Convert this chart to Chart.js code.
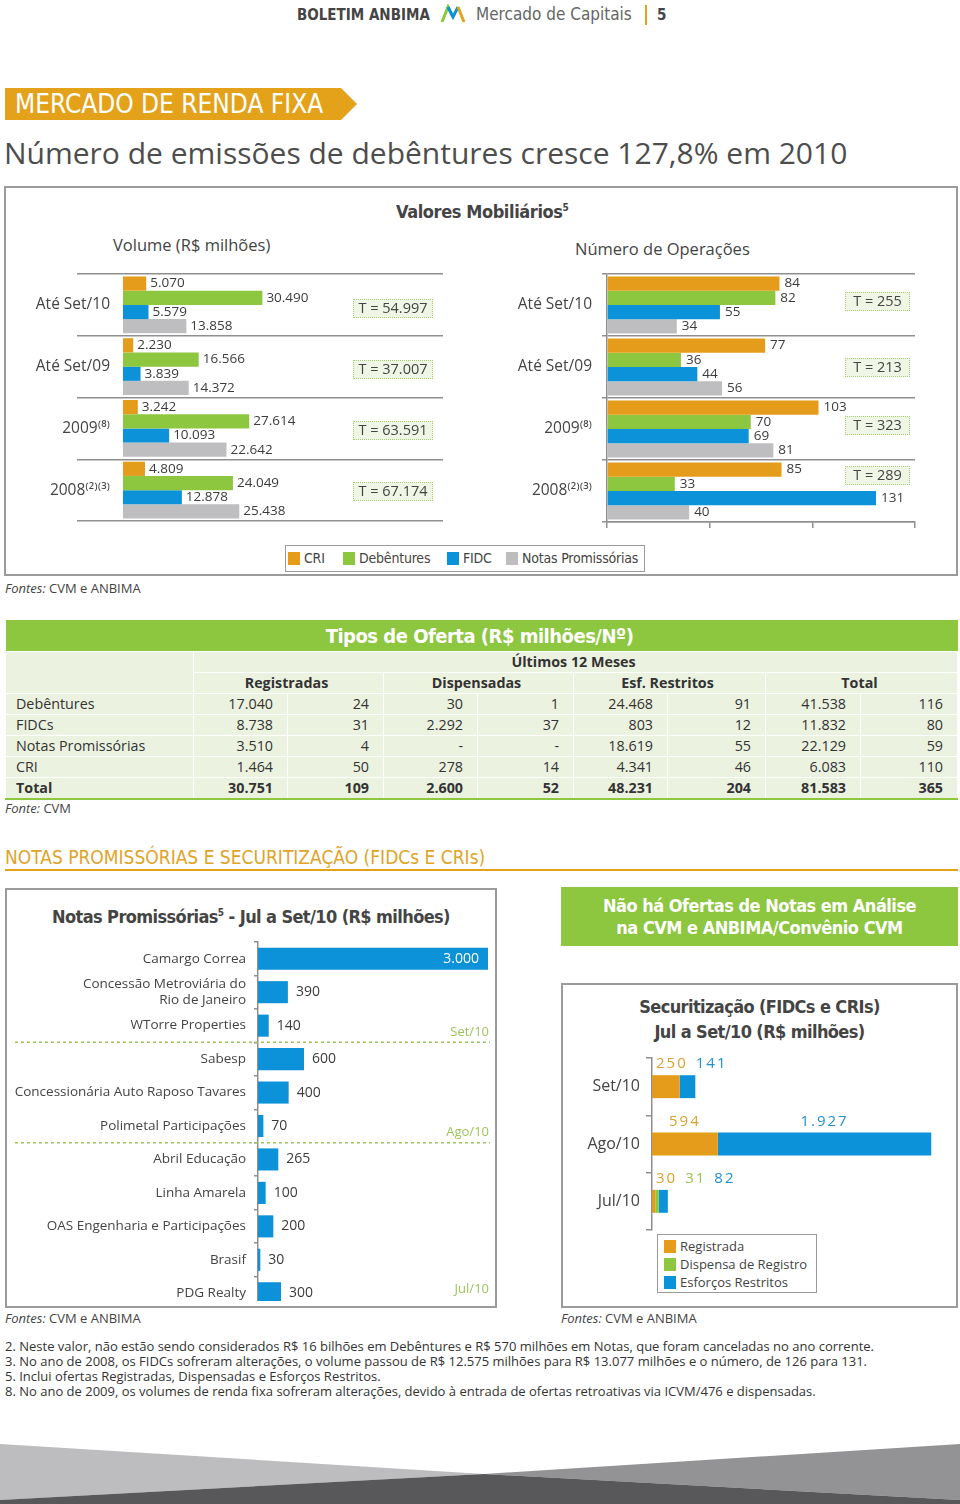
<!DOCTYPE html>
<html lang="pt-BR">
<head>
<meta charset="UTF-8">
<title>Mercado de Renda Fixa</title>
<script src="https://cdn.jsdelivr.net/npm/chart.js@4.4.1/dist/chart.umd.min.js"></script>
<style>
  body { margin: 0; background: #fff; font-family: 'Open Sans', sans-serif; color: #444; }
  #pagina { position: relative; width: 960px; height: 1504px; overflow: hidden; }
  .abs { position: absolute; white-space: nowrap; }
  .cond { font-family: 'Liberation Sans Narrow', 'DejaVu Sans Condensed', sans-serif; }
  .caixa { position: absolute; box-sizing: border-box; border: 2px solid #9b9b9b; }
  .tbox { position: absolute; box-sizing: border-box; height: 19px; line-height: 16px; font-size: 14.5px;
          text-align: center; color: #444; background: #f0f6e6; border: 1.5px dotted #a6cb74; }
  .legenda { position: absolute; box-sizing: border-box; border: 1.5px solid #9b9b9b; background: #fff; white-space: nowrap; }
  .legenda span.q { display: inline-block; width: 12px; height: 13px; vertical-align: -2px; margin-right: 4px; }
  .legenda .item { position: absolute; top: 0; }
  .fonte { position: absolute; font-size: 13px; color: #444; }
  #tabela { position: absolute; left: 5px; top: 620px; width: 952px; border-collapse: collapse;
            table-layout: fixed; font-size: 14.3px; color: #333; }
  #tabela td { background: #ecf2e0; border: 1.5px solid #fff; padding: 0 14px 0 10px; height: 20px; line-height: 18px; white-space: nowrap; }
  #tabela td.cap { background: #8dc63f; color: #fff; font-weight: bold; font-size: 20px; letter-spacing: -0.5px; text-align: center; height: 31px; border: none; }
  #tabela td.h { text-align: center; font-weight: bold; }
  #tabela td.n { text-align: right; }
  #tabela tr.total td { font-weight: bold; border-bottom: 2px solid #8dc63f; }
</style>
</head>
<body>
<div id="pagina">

  <!-- cabeçalho -->
  <div class="abs cond" style="left:297px; top:6px; font-size:15px; font-weight:bold; color:#444;">BOLETIM ANBIMA</div>
  <svg class="abs" style="left:440px; top:4px;" width="26" height="20">
    <polyline points="2,18 8,3 13,13" fill="none" stroke="#8dc63f" stroke-width="3"/>
    <polyline points="8,3 13,13 18,3" fill="none" stroke="#0b92d8" stroke-width="3"/>
    <polyline points="18,3 24,18" fill="none" stroke="#e4a21b" stroke-width="3"/>
  </svg>
  <div class="abs cond" style="left:476px; top:4px; font-size:17px; color:#666;">Mercado de Capitais</div>
  <div class="abs" style="left:645px; top:5px; width:2px; height:20px; background:#e4a21b;"></div>
  <div class="abs cond" style="left:657px; top:6px; font-size:15px; font-weight:bold; color:#444;">5</div>

  <div class="abs cond" style="left:5px; top:88px; width:352px; height:32px; background:#e4a21b; color:#fff;
       font-size:26px; line-height:33px; padding-left:10px; box-sizing:border-box;
       clip-path: polygon(0 0, 336px 0, 352px 50%, 336px 100%, 0 100%);">MERCADO DE RENDA FIXA</div>
  <div class="abs" style="left:4px; top:132px; font-size:30px; color:#4d4d4d;">Número de emissões de debêntures cresce 127,8% em 2010</div>

  <!-- Valores Mobiliários -->
  <div class="caixa" style="left:4px; top:186px; width:954px; height:390px;"></div>
  <div class="abs cond" style="left:396px; top:201px; font-size:18px; letter-spacing:-0.4px; font-weight:bold; color:#444;">Valores Mobiliários<sup style="font-size:10px;">5</sup></div>
  <div class="abs" style="left:113px; top:233px; font-size:16.5px; color:#444;">Volume (R$ milhões)</div>
  <div class="abs" style="left:575px; top:237px; font-size:16.5px; color:#444;">Número de Operações</div>
  <canvas id="cVolume" class="abs" style="left:15px; top:266px;" width="435" height="265"></canvas>
  <canvas id="cOperacoes" class="abs" style="left:490px; top:266px;" width="435" height="270"></canvas>
  <div id="totaisVol"></div>
  <div id="totaisOp"></div>
  <div class="legenda cond" style="left:285px; top:545px; width:360px; height:27px; font-size:14px; letter-spacing:-0.2px; line-height:24px;">
    <span class="item" style="left:2px;"><span class="q" style="background:#e49c1a"></span>CRI</span>
    <span class="item" style="left:57px;"><span class="q" style="background:#8dc63f"></span>Debêntures</span>
    <span class="item" style="left:161px;"><span class="q" style="background:#0b92d8"></span>FIDC</span>
    <span class="item" style="left:220px;"><span class="q" style="background:#bebec0"></span>Notas Promissórias</span>
  </div>
  <div class="fonte" style="left:5px; top:579px;"><i>Fontes:</i> CVM e ANBIMA</div>

  <!-- Tipos de oferta -->
  <table id="tabela">
    <colgroup>
      <col style="width:188px"><col style="width:94px"><col style="width:96px"><col style="width:94px"><col style="width:96px">
      <col style="width:94px"><col style="width:98px"><col style="width:95px"><col style="width:97px">
    </colgroup>
    <thead>
      <tr><td class="cap cond" colspan="9">Tipos de Oferta (R$ milhões/Nº)</td></tr>
      <tr><td rowspan="2"></td><td class="h" colspan="8">Últimos 12 Meses</td></tr>
      <tr id="linhaGrupos"></tr>
    </thead>
    <tbody id="corpoTabela"></tbody>
  </table>
  <div class="fonte" style="left:5px; top:799px;"><i>Fonte:</i> CVM</div>

  <!-- Notas e securitização -->
  <div class="abs cond" style="left:5px; top:846px; font-size:19px; color:#e0a428;">NOTAS PROMISSÓRIAS E SECURITIZAÇÃO (FIDCs E CRIs)</div>
  <div class="abs" style="left:5px; top:869px; width:953px; height:2px; background:#e4a21b;"></div>

  <div class="caixa" style="left:5px; top:888px; width:492px; height:420px;"></div>
  <div class="abs cond" style="left:5px; top:906px; width:492px; text-align:center; font-size:18px; letter-spacing:-0.6px; font-weight:bold; color:#444;">Notas Promissórias<sup style="font-size:10px;">5</sup> - Jul a Set/10 (R$ milhões)</div>
  <div class="abs" style="left:0px; top:936px; width:497px; height:365px; overflow:hidden;">
    <canvas id="cNotas" style="position:absolute; left:10px; top:0px;" width="485" height="376"></canvas>
  </div>

  <div class="abs cond" style="left:561px; top:887px; width:397px; height:59px; background:#8dc63f; color:#fff;
       font-size:18px; font-weight:bold; letter-spacing:-0.5px; text-align:center; line-height:22px; padding-top:8px; box-sizing:border-box;">Não há Ofertas de Notas em Análise<br>na CVM e ANBIMA/Convênio CVM</div>

  <div class="caixa" style="left:561px; top:983px; width:397px; height:325px;"></div>
  <div class="abs cond" style="left:561px; top:994px; width:397px; text-align:center; font-size:18px; letter-spacing:-0.6px; font-weight:bold; color:#444; line-height:25px;">Securitização (FIDCs e CRIs)<br>Jul a Set/10 (R$ milhões)</div>
  <canvas id="cSecuritizacao" class="abs" style="left:570px; top:1050px;" width="385" height="185"></canvas>
  <div class="legenda" style="left:657px; top:1234px; width:160px; height:59px; font-size:13px; line-height:18px; padding:2px 0 0 6px;">
    <div><span class="q" style="background:#e49c1a"></span>Registrada</div>
    <div><span class="q" style="background:#8dc63f"></span>Dispensa de Registro</div>
    <div><span class="q" style="background:#0b92d8"></span>Esforços Restritos</div>
  </div>
  <div class="fonte" style="left:5px; top:1309px;"><i>Fontes:</i> CVM e ANBIMA</div>
  <div class="fonte" style="left:561px; top:1309px;"><i>Fontes:</i> CVM e ANBIMA</div>

  <div class="abs" style="left:5px; top:1339px; font-size:13px; line-height:15px; color:#333;">
    2. Neste valor, não estão sendo considerados R$ 16 bilhões em Debêntures e R$ 570 milhões em Notas, que foram canceladas no ano corrente.<br>
    3. No ano de 2008, os FIDCs sofreram alterações, o volume passou de R$ 12.575 milhões para R$ 13.077 milhões e o número, de 126 para 131.<br>
    5. Inclui ofertas Registradas, Dispensadas e Esforços Restritos.<br>
    8. No ano de 2009, os volumes de renda fixa sofreram alterações, devido à entrada de ofertas retroativas via ICVM/476 e dispensadas.
  </div>

  <svg class="abs" style="left:0; top:1440px;" width="960" height="64">
    <polygon points="0,4 484,34 0,60" fill="#bdbdbf"/>
    <polygon points="960,4 484,34 960,60" fill="#939395"/>
    <polygon points="0,60 484,34 960,60 960,64 0,64" fill="#58585a"/>
  </svg>
</div>

<script>
// ---- dados ----
const periodos = ['Até Set/10', 'Até Set/09', '2009⁽⁸⁾', '2008⁽²⁾⁽³⁾'];
const tipos = ['CRI', 'Debêntures', 'FIDC', 'Notas Promissórias'];
const volCRI = [5070, 2230, 3242, 4809];
const volDeb = [30490, 16566, 27614, 24049];
const volFIDC = [5579, 3839, 10093, 12878];
const volNP = [13858, 14372, 22642, 25438];
const volTotal = [54997, 37007, 63591, 67174];
const opCRI = [84, 77, 103, 85];
const opDeb = [82, 36, 70, 33];
const opFIDC = [55, 44, 69, 131];
const opNP = [34, 56, 81, 40];
const opTotal = [255, 213, 323, 289];

const linhasOferta = ['Debêntures', 'FIDCs', 'Notas Promissórias', 'CRI', 'Total'];
const gruposOferta = ['Registradas', 'Dispensadas', 'Esf. Restritos', 'Total'];
const regVol = [17040, 8738, 3510, 1464, 30751];
const regNum = [24, 31, 4, 50, 109];
const dispVol = [30, 2292, null, 278, 2600];
const dispNum = [1, 37, null, 14, 52];
const esfVol = [24468, 803, 18619, 4341, 48231];
const esfNum = [91, 12, 55, 46, 204];
const totVol = [41538, 11832, 22129, 6083, 81583];
const totNum = [116, 80, 59, 110, 365];

const empresas = ['Camargo Correa', ['Concessão Metroviária do', 'Rio de Janeiro'], 'WTorre Properties', 'Sabesp',
  'Concessionária Auto Raposo Tavares', 'Polimetal Participações', 'Abril Educação', 'Linha Amarela',
  'OAS Engenharia e Participações', 'Brasif', 'PDG Realty'];
const notasValores = [3000, 390, 140, 600, 400, 70, 265, 100, 200, 30, 300];
const notasMeses = ['Set/10', 'Ago/10', 'Jul/10'];
const notasFimMes = [3, 6, 11];

const secMeses = ['Set/10', 'Ago/10', 'Jul/10'];
const secTipos = ['Registrada', 'Dispensa de Registro', 'Esforços Restritos'];
const secRegistrada = [250, 594, 30];
const secDispensa = [0, 0, 31];
const secEsforcos = [141, 1927, 82];

// ---- estilos ----
const cores = ['#e49c1a', '#8dc63f', '#0b92d8', '#bebec0'];
const coresTexto = ['#dca032', '#9bc453', '#1e90d0'];
const cinzaLinha = '#8f8f8f';
const fmt = v => String(v).replace(/\B(?=(\d{3})+(?!\d))/g, '.');

Chart.defaults.font.family = "'Open Sans', sans-serif";
Chart.defaults.color = '#444';
Chart.defaults.animation = false;

// largura fixa do eixo de categorias, sem folga extra em cima e embaixo
const eixoFixo = largura => s => { s.width = largura; s.paddingTop = 0; s.paddingBottom = 0; };

// totais e tabela
function totais(id, valores, left, width, tops) {
  document.getElementById(id).innerHTML = valores.map((v, i) =>
    `<div class="tbox" style="left:${left}px; top:${tops[i]}px; width:${width}px;">T = ${fmt(v)}</div>`).join('');
}
totais('totaisVol', volTotal, 353, 80, [299, 360, 421, 482]);
totais('totaisOp', opTotal, 845, 65, [292, 358, 416, 466]);

document.getElementById('linhaGrupos').innerHTML = gruposOferta.map(g => `<td class="h" colspan="2">${g}</td>`).join('');
const celula = v => `<td class="n">${v === null ? '-' : fmt(v)}</td>`;
document.getElementById('corpoTabela').innerHTML = linhasOferta.map((l, i) =>
  `<tr${l === 'Total' ? ' class="total"' : ''}><td>${l}</td>` +
  [regVol, regNum, dispVol, dispNum, esfVol, esfNum, totVol, totNum].map(s => celula(s[i])).join('') + '</tr>').join('');

// rótulos no fim das barras
const rotulos = {
  id: 'rotulos',
  afterDatasetsDraw(chart, args, opts) {
    const { ctx, chartArea } = chart;
    ctx.save();
    ctx.font = opts.font;
    ctx.textBaseline = 'middle';
    chart.data.datasets.forEach((ds, i) => {
      chart.getDatasetMeta(i).data.forEach((bar, j) => {
        const txt = fmt(ds.data[j]);
        if (opts.dentro && bar.x - bar.base > chartArea.width * 0.8) {
          ctx.fillStyle = '#fff';
          ctx.textAlign = 'right';
          ctx.fillText(txt, bar.x - 9, bar.y);
        } else {
          ctx.fillStyle = opts.color;
          ctx.textAlign = 'left';
          ctx.fillText(txt, bar.x + opts.gap, bar.y);
        }
      });
    });
    ctx.restore();
  }
};

function conjuntos(series) {
  return tipos.map((t, i) => ({ label: t, data: series[i], backgroundColor: cores[i], categoryPercentage: 0.92, barPercentage: 1 }));
}

new Chart(document.getElementById('cVolume'), {
  type: 'bar',
  data: { labels: periodos, datasets: conjuntos([volCRI, volDeb, volFIDC, volNP]) },
  options: {
    indexAxis: 'y', responsive: false,
    layout: { padding: { top: 8, right: 7, bottom: 10, left: 0 } },
    plugins: { legend: { display: false }, tooltip: { enabled: false },
      rotulos: { font: '13.5px "Open Sans"', color: '#3c3c3c', gap: 4 } },
    scales: {
      x: { display: false, min: 0, max: 70000 },
      y: {
        afterFit: eixoFixo(108),
        border: { display: false },
        grid: { color: cinzaLinha, lineWidth: 1.5, tickLength: 46 },
        ticks: { padding: -33, color: '#444', font: { size: 15.5 } }
      }
    }
  },
  plugins: [rotulos]
});

new Chart(document.getElementById('cOperacoes'), {
  type: 'bar',
  data: { labels: periodos, datasets: conjuntos([opCRI, opDeb, opFIDC, opNP]) },
  options: {
    indexAxis: 'y', responsive: false,
    layout: { padding: { top: 8, right: 10, bottom: 6, left: 0 } },
    plugins: { legend: { display: false }, tooltip: { enabled: false },
      rotulos: { font: '13.5px "Open Sans"', color: '#3c3c3c', gap: 5 } },
    scales: {
      x: {
        min: 0, max: 150,
        afterFit: s => { s.height = 8; },
        border: { display: true, color: cinzaLinha, width: 1.5 },
        grid: { drawOnChartArea: false, drawTicks: true, tickLength: 6, color: cinzaLinha, lineWidth: 1.5 },
        ticks: { display: false, stepSize: 50 }
      },
      y: {
        afterFit: eixoFixo(117),
        border: { display: true, color: cinzaLinha, width: 1.5 },
        grid: { color: cinzaLinha, lineWidth: 1.5, tickLength: 5 },
        ticks: { padding: 10, color: '#444', font: { size: 15.5 } }
      }
    }
  },
  plugins: [rotulos]
});

// separadores de mês nas notas promissórias
const separadores = {
  id: 'separadores',
  afterDraw(chart) {
    const { ctx, chartArea, scales: { y } } = chart;
    ctx.save();
    ctx.font = '13px "Open Sans"';
    ctx.fillStyle = '#9dc45a';
    ctx.strokeStyle = '#9dc45a';
    ctx.textAlign = 'right';
    ctx.textBaseline = 'middle';
    notasFimMes.forEach((fim, k) => {
      if (k < notasFimMes.length - 1) {
        const yy = (y.getPixelForValue(fim - 1) + y.getPixelForValue(fim)) / 2;
        ctx.lineWidth = 1.5;
        ctx.setLineDash([3, 3]);
        ctx.beginPath();
        ctx.moveTo(5, yy);
        ctx.lineTo(chartArea.right + 2, yy);
        ctx.stroke();
        ctx.fillText(notasMeses[k], chartArea.right + 1, yy - 10);
      } else {
        ctx.fillText(notasMeses[k], chartArea.right + 1, chartArea.bottom - 21);
      }
    });
    ctx.restore();
  }
};

new Chart(document.getElementById('cNotas'), {
  type: 'bar',
  data: { labels: empresas, datasets: [{ data: notasValores, backgroundColor: '#0b92d8', categoryPercentage: 0.66, barPercentage: 1 }] },
  options: {
    indexAxis: 'y', responsive: false,
    layout: { padding: { top: 6, right: 7, bottom: 2, left: 0 } },
    plugins: { legend: { display: false }, tooltip: { enabled: false },
      rotulos: { font: '14px "Open Sans"', color: '#3c3c3c', gap: 8, dentro: true } },
    scales: {
      x: { display: false, min: 0, max: 3000 },
      y: {
        afterFit: eixoFixo(248),
        border: { display: true, color: cinzaLinha, width: 1.5 },
        grid: { drawOnChartArea: false, tickLength: 4, color: cinzaLinha, lineWidth: 1.5 },
        ticks: { autoSkip: false, padding: 8, color: '#444', font: { size: 13.5, lineHeight: 1.2 } }
      }
    }
  },
  plugins: [rotulos, separadores]
});

// rótulos acima das barras empilhadas
const rotulosEmpilhados = {
  id: 'rotulosEmpilhados',
  afterDatasetsDraw(chart) {
    const { ctx, chartArea } = chart;
    ctx.save();
    ctx.font = '15px "Open Sans"';
    ctx.letterSpacing = '2px';
    ctx.textBaseline = 'middle';
    ctx.textAlign = 'left';
    chart.data.labels.forEach((_, j) => {
      let fimAnterior = chartArea.left + 4;
      chart.data.datasets.forEach((ds, i) => {
        const v = ds.data[j];
        if (!v) return;
        const bar = chart.getDatasetMeta(i).data[j];
        const txt = fmt(v);
        const w = ctx.measureText(txt).width;
        const x = Math.max((bar.base + bar.x) / 2 - w / 2, fimAnterior);
        ctx.fillStyle = coresTexto[i];
        ctx.fillText(txt, x, bar.y - bar.height / 2 - 11);
        fimAnterior = x + w + 8;
      });
    });
    ctx.restore();
  }
};

new Chart(document.getElementById('cSecuritizacao'), {
  type: 'bar',
  data: {
    labels: secMeses,
    datasets: [secRegistrada, secDispensa, secEsforcos].map((s, i) => ({
      label: secTipos[i], data: s, backgroundColor: cores[i], categoryPercentage: 0.4, barPercentage: 1
    }))
  },
  options: {
    indexAxis: 'y', responsive: false,
    layout: { padding: { top: 8, right: 15, bottom: 5, left: 0 } },
    plugins: { legend: { display: false }, tooltip: { enabled: false } },
    scales: {
      x: { display: false, stacked: true, min: 0, max: 2600 },
      y: {
        stacked: true,
        afterFit: eixoFixo(82),
        border: { display: true, color: cinzaLinha, width: 1.5 },
        grid: { drawOnChartArea: false, tickLength: 6, color: cinzaLinha, lineWidth: 1.5 },
        ticks: { padding: 6, color: '#444', font: { size: 16 } }
      }
    }
  },
  plugins: [rotulosEmpilhados]
});
</script>
</body>
</html>
